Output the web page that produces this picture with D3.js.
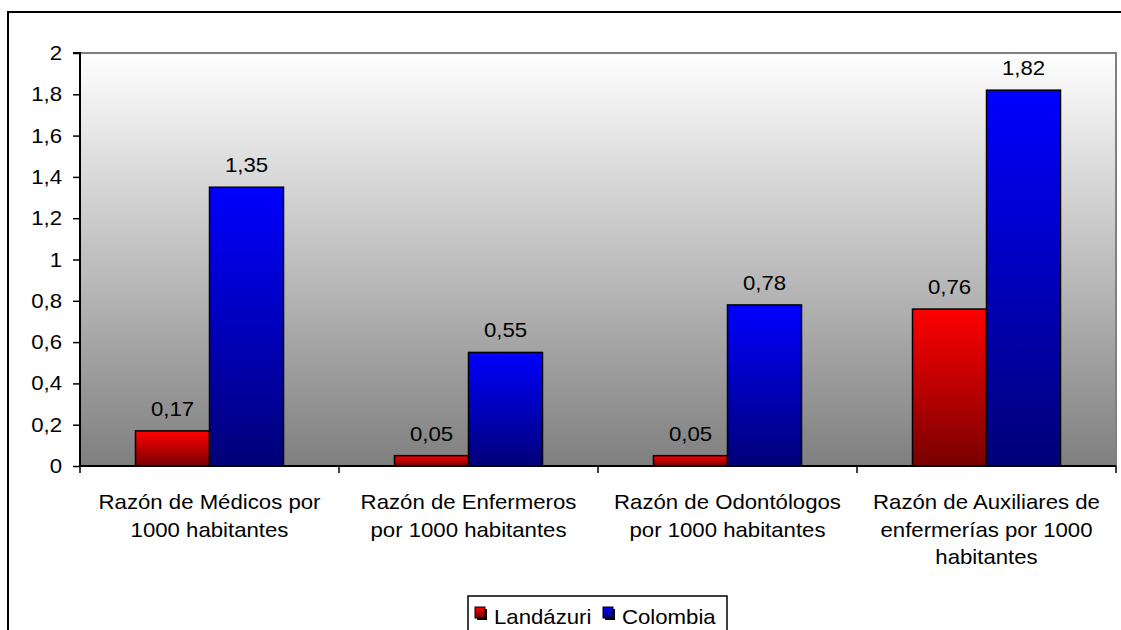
<!DOCTYPE html>
<html>
<head>
  <meta charset="utf-8">
  <title>Razón de personal de salud por 1000 habitantes</title>
  <style>
    body { margin: 0; background: #fff; }
    svg text { font-family: "Liberation Sans", Arial, sans-serif; fill: #000; }
  </style>
</head>
<body>
  <div id="chart"></div>
  <script src="https://d3js.org/d3.v7.min.js"></script>
  <script>
    const categories = [
      ["Razón de Médicos por", "1000 habitantes"],
      ["Razón de Enfermeros", "por 1000 habitantes"],
      ["Razón de Odontólogos", "por 1000 habitantes"],
      ["Razón de Auxiliares de", "enfermerías por 1000", "habitantes"]
    ];
    const series = ["Landázuri", "Colombia"];
    const landazuri = [0.17, 0.05, 0.05, 0.76];
    const colombia = [1.35, 0.55, 0.78, 1.82];
    const yTicks = [0, 0.2, 0.4, 0.6, 0.8, 1, 1.2, 1.4, 1.6, 1.8, 2];

    const width = 1121, height = 630;
    const plot = { left: 80, top: 53, right: 1116, bottom: 466 };
    const fontSize = 20, stretch = 1.11;

    const svg = d3.select("#chart").append("svg")
      .attr("width", width).attr("height", height);

    const defs = svg.append("defs");
    function vGrad(id, top, bottom) {
      const g = defs.append("linearGradient").attr("id", id)
        .attr("x1", 0).attr("y1", 0).attr("x2", 0).attr("y2", 1);
      g.append("stop").attr("offset", "0%").attr("stop-color", top);
      g.append("stop").attr("offset", "100%").attr("stop-color", bottom);
    }
    vGrad("bg", "#ffffff", "#7f7f7f");
    vGrad("red", "#ff0000", "#780000");
    vGrad("blue", "#0000ff", "#000078");
    const fills = ["url(#red)", "url(#blue)"];

    // outer frame (cropped at right and bottom)
    svg.append("rect")
      .attr("x", 8).attr("y", 12).attr("width", 1140).attr("height", 660)
      .attr("fill", "none").attr("stroke", "#000").attr("stroke-width", 2);

    const x0 = d3.scaleBand()
      .domain(d3.range(categories.length))
      .range([plot.left, plot.right]);
    const x1 = d3.scaleBand()
      .domain(series)
      .range([0, x0.bandwidth()])
      .paddingOuter(0.75);
    const y = d3.scaleLinear().domain([0, 2]).range([plot.bottom, plot.top]);

    // plot area
    svg.append("rect")
      .attr("x", plot.left).attr("y", plot.top)
      .attr("width", plot.right - plot.left).attr("height", plot.bottom - plot.top)
      .attr("fill", "url(#bg)");
    svg.append("path")
      .attr("d", `M${plot.left},${plot.top}H${plot.right}V${plot.bottom}`)
      .attr("fill", "none").attr("stroke", "#808080").attr("stroke-width", 2);

    function label(x, yy, txt) {
      return svg.append("text")
        .attr("transform", `translate(${x},${yy}) scale(${stretch},1)`)
        .style("font-size", fontSize + "px")
        .text(txt);
    }

    // bars
    const values = [landazuri, colombia];
    series.forEach((s, si) => {
      values[si].forEach((v, ci) => {
        const bx = x0(ci) + x1(s);
        svg.append("rect")
          .attr("x", bx).attr("y", y(v))
          .attr("width", x1.bandwidth()).attr("height", y(0) - y(v))
          .attr("fill", fills[si])
          .attr("stroke", "#000").attr("stroke-width", 1.5);
        label(bx + x1.bandwidth() / 2, y(v) - 15, String(v).replace(".", ","))
          .attr("text-anchor", "middle");
      });
    });

    // y axis
    const yAxis = svg.append("g")
      .attr("transform", `translate(${plot.left},0)`)
      .call(d3.axisLeft(y).tickValues(yTicks).tickSize(7).tickFormat(() => ""));
    yAxis.select(".domain").attr("stroke-width", 2).attr("d", `M-7,${plot.top}H0V${plot.bottom}`);
    yAxis.selectAll(".tick line").attr("stroke-width", 1.5);
    yTicks.forEach(t => {
      label(62, y(t) + 7, String(t).replace(".", ",")).attr("text-anchor", "end");
    });

    // x axis
    svg.append("line")
      .attr("x1", plot.left).attr("x2", plot.right)
      .attr("y1", plot.bottom).attr("y2", plot.bottom)
      .attr("stroke", "#000").attr("stroke-width", 2);
    const bounds = d3.range(categories.length + 1).map(i =>
      i < categories.length ? x0(i) : plot.right);
    bounds.forEach(bx => {
      svg.append("line")
        .attr("x1", bx).attr("x2", bx)
        .attr("y1", plot.bottom).attr("y2", plot.bottom + 7)
        .attr("stroke", "#000").attr("stroke-width", 1.5);
    });
    categories.forEach((lines, ci) => {
      lines.forEach((ln, li) => {
        label(x0(ci) + x0.bandwidth() / 2, 509 + li * 27.5, ln)
          .attr("text-anchor", "middle");
      });
    });

    // legend
    const lg = svg.append("g");
    lg.append("rect")
      .attr("x", 468).attr("y", 596).attr("width", 259).attr("height", 50)
      .attr("fill", "#fff").attr("stroke", "#000").attr("stroke-width", 1.5);
    const legendX = [475, 603];
    series.forEach((s, si) => {
      lg.append("rect")
        .attr("x", legendX[si] + 2).attr("y", 609).attr("width", 10).attr("height", 11)
        .attr("fill", "#000");
      lg.append("rect")
        .attr("x", legendX[si]).attr("y", 607).attr("width", 10).attr("height", 11)
        .attr("fill", fills[si]).attr("stroke", "#000").attr("stroke-width", 1);
      label(legendX[si] + 19, 624, s);
    });
  </script>
</body>
</html>
